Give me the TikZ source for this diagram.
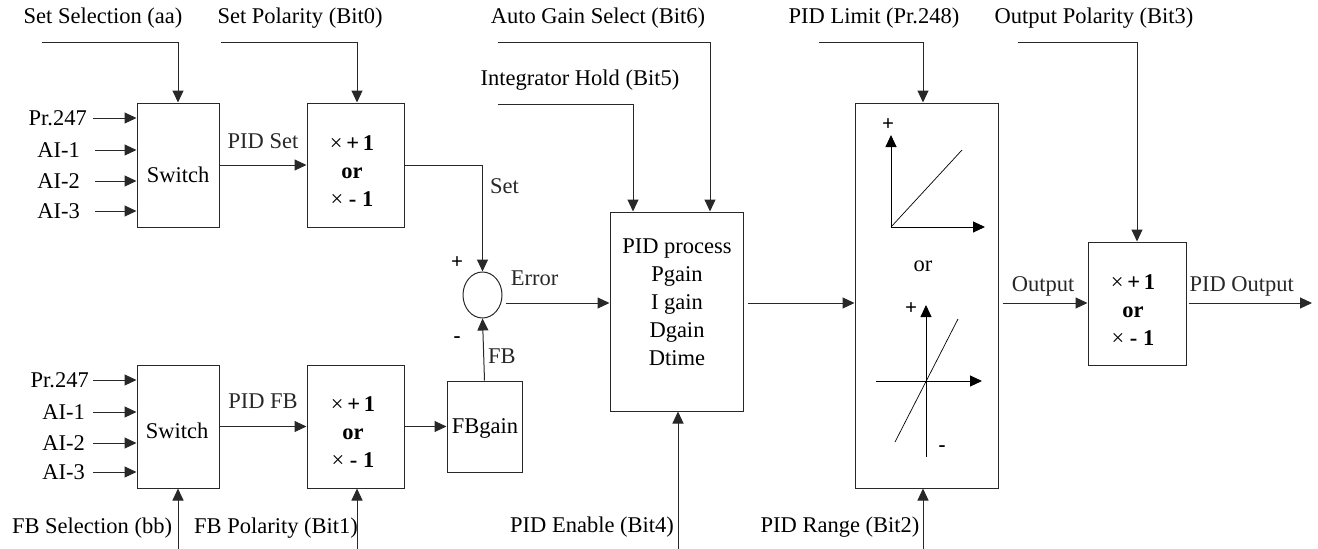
\documentclass[tikz,border=0pt]{standalone}
\usepackage{fontspec}
\setmainfont{Liberation Serif}
\usetikzlibrary{arrows.meta,calc,positioning,shapes.geometric}
\definecolor{dline}{RGB}{40,40,40}
\tikzset{
  ann/.style={font=\fontsize{22.5}{28}\selectfont,inner sep=0pt},
  blk/.style={draw=dline,line width=1pt,inner sep=0pt},
  arr/.style={-{Triangle[length=12pt,width=11pt]},line width=1pt,dline},
  ax/.style={-{Triangle[length=12pt,width=11pt]},line width=0.9pt,black},
  slope/.style={line width=0.7pt,black},
  sgn/.style={font=\fontsize{21}{21}\selectfont\bfseries,inner sep=0pt}
}
\newcommand{\polsign}{×\,\textbf{+\,1}\\\textbf{or}\\×\ \textbf{-\ 1}}

\begin{document}
\begin{tikzpicture}[x=1pt,y=-1pt]
  \useasboundingbox (0,0) rectangle (1318,549);
  \coordinate (lvl) at (0,303);
  \coordinate (bot) at (0,549);
  % blocks
  \node[blk,minimum width=82pt,minimum height=124pt] (swA) at (178,165) {};
  \node[blk,minimum width=97pt,minimum height=124pt] (polA) at (355.5,165) {};
  \node[blk,minimum width=82pt,minimum height=123pt] (swB) at (178,426.5) {};
  \node[blk,minimum width=97pt,minimum height=123pt] (polB) at (355.5,426.5) {};
  \node[blk,minimum width=75pt,minimum height=91pt] (fbg) at (484.5,426.5) {};
  \node[blk,ellipse,minimum width=39pt,minimum height=46pt] (sum) at (482.5,295) {};
  \node[blk,minimum width=133pt,minimum height=199pt] (pid) at (676.5,311.5) {};
  \node[blk,minimum width=143pt,minimum height=385pt] (lim) at (926.5,295.5) {};
  \node[blk,minimum width=98pt,minimum height=123pt] (polC) at (1137,303.5) {};
  % block texts
  \node[ann] (swAtxt) at (178,175) {Switch};
  \node[ann] (swBtxt) at (177,431) {Switch};
  \node[ann,align=center] (polAtxt) at (352,171) {\polsign};
  \node[ann,align=center] (polBtxt) at (353,432) {\polsign};
  \node[ann,align=center] (polCtxt) at (1133,310) {\polsign};
  \node[ann] (fbgtxt) at (485,428) {FBgain};
  \node[ann,align=center] (pidtxt) at (677,302) {PID process\\Pgain\\I gain\\Dgain\\Dtime};

  % set inputs
  \node[ann,anchor=east] (a0) at (87,118) {Pr.247};
  \node[ann,anchor=east] (a1) at (80,150) {AI-1};
  \node[ann,anchor=east] (a2) at (80,181) {AI-2};
  \node[ann,anchor=east] (a3) at (80,211) {AI-3};
  \draw[arr] ([xshift=6pt]a0.east) -- (a0 -| swA.west);
  \draw[arr] ([xshift=15pt]a1.east) -- (a1 -| swA.west);
  \draw[arr] ([xshift=15pt]a2.east) -- (a2 -| swA.west);
  \draw[arr] ([xshift=15pt]a3.east) -- (a3 -| swA.west);
  % feedback inputs
  \node[ann,anchor=east] (b0) at (89,380) {Pr.247};
  \node[ann,anchor=east] (b1) at (85,412) {AI-1};
  \node[ann,anchor=east] (b2) at (85,443) {AI-2};
  \node[ann,anchor=east] (b3) at (85,472) {AI-3};
  \draw[arr] ([xshift=4pt]b0.east) -- (b0 -| swB.west);
  \draw[arr] ([xshift=8pt]b1.east) -- (b1 -| swB.west);
  \draw[arr] ([xshift=8pt]b2.east) -- (b2 -| swB.west);
  \draw[arr] ([xshift=8pt]b3.east) -- (b3 -| swB.west);

  % top control bits
  \node[ann] (selA) at (103,18) {Set Selection (aa)};
  \node[ann] (setpol) at (300,18) {Set Polarity (Bit0)};
  \node[ann] (autog) at (598,18) {Auto Gain Select (Bit6)};
  \node[ann] (ihold) at (580,80) {Integrator Hold (Bit5)};
  \node[ann] (plim) at (874,18) {PID Limit (Pr.248)};
  \node[ann] (outpol) at (1094,18) {Output Polarity (Bit3)};
  \coordinate (selAin) at (42,42);
  \coordinate (setpolin) at (221,42);
  \coordinate (autogin) at (498,42);
  \coordinate (iholdin) at (498,104);
  \coordinate (plimin) at (819,42);
  \coordinate (outpolin) at (1018,42);
  \coordinate (polAtop) at ([xshift=1.5pt]polA.north);
  \coordinate (pidtopR) at ([xshift=33.5pt]pid.north);
  \coordinate (pidtopL) at ([xshift=-43.5pt]pid.north);
  \coordinate (limtop) at ([xshift=-3.5pt]lim.north);
  \draw[arr] (selAin) -| (swA.north);
  \draw[arr] (setpolin) -| (polAtop);
  \draw[arr] (autogin) -| (pidtopR);
  \draw[arr] (iholdin) -| (pidtopL);
  \draw[arr] (plimin) -| (limtop);
  \draw[arr] (outpolin) -| (polC.north);

  % bottom control bits
  \node[ann] (fbsel) at (92,528) {FB Selection (bb)};
  \node[ann] (fbpol) at (276,528) {FB Polarity (Bit1)};
  \node[ann] (pidena) at (592,527) {PID Enable (Bit4)};
  \node[ann] (pidrng) at (840,527) {PID Range (Bit2)};
  \coordinate (polBbot) at ([xshift=1.5pt]polB.south);
  \coordinate (pidbot) at ([xshift=1.5pt]pid.south);
  \coordinate (limbot) at ([xshift=-3.5pt]lim.south);
  \draw[arr] (swB.south |- bot) -- (swB.south);
  \draw[arr] (polBbot |- bot) -- (polBbot);
  \draw[arr] (pidbot |- bot) -- (pidbot);
  \draw[arr] (limbot |- bot) -- (limbot);

  % signal path
  \draw[arr] (swA.east) -- (polA.west) node[ann,midway,above=16pt] (pidset) {PID Set};
  \draw[arr] (swB.east) -- (polB.west) node[ann,midway,above=17pt] (pidfb) {PID FB};
  \draw[arr] (polA.east) -| (sum.north) node[ann,pos=0.6,right=7pt] (setlbl) {Set};
  \draw[arr] (polB.east) -- (fbg.west);
  \draw[arr] (fbg.north) -- (sum.south) node[ann,pos=0.4,right=4pt] (fblbl) {FB};
  \node[sgn] (plus) at (457,263) {+};
  \node[sgn] (minus) at (457,340) {-};
  \draw[arr,shorten <=3pt] (sum.east |- lvl) -- (pid.west |- lvl)
    node[ann,pos=0.3,above=17pt] (errlbl) {Error};
  \draw[arr,shorten <=4pt] (pid.east |- lvl) -- (lim.west |- lvl);
  \draw[arr,shorten <=4pt] (lim.east |- lvl) -- (polC.west |- lvl)
    node[ann,midway,above=6pt] (outlbl) {Output};
  \coordinate (pidout) at (1312,303);
  \draw[arr,shorten <=2pt] (polC.east |- lvl) -- (pidout)
    node[ann,pos=0.44,above=6pt] (pidoutlbl) {PID Output};

  % limit characteristics
  \draw[ax] (891,227) -- (891,135);
  \draw[ax] (891,227) -- (985,227);
  \draw[slope] (891,227) -- (962,150);
  \node[sgn] (limp1) at (888,125) {+};
  \node[ann] (limor) at (923,266) {or};
  \draw[ax] (926,457) -- (926,305);
  \draw[ax] (876,381) -- (982,381);
  \draw[slope] (895,442) -- (958,319);
  \node[sgn] (limp2) at (911,309) {+};
  \node[sgn] (limm2) at (942,449) {-};
\end{tikzpicture}
\end{document}
